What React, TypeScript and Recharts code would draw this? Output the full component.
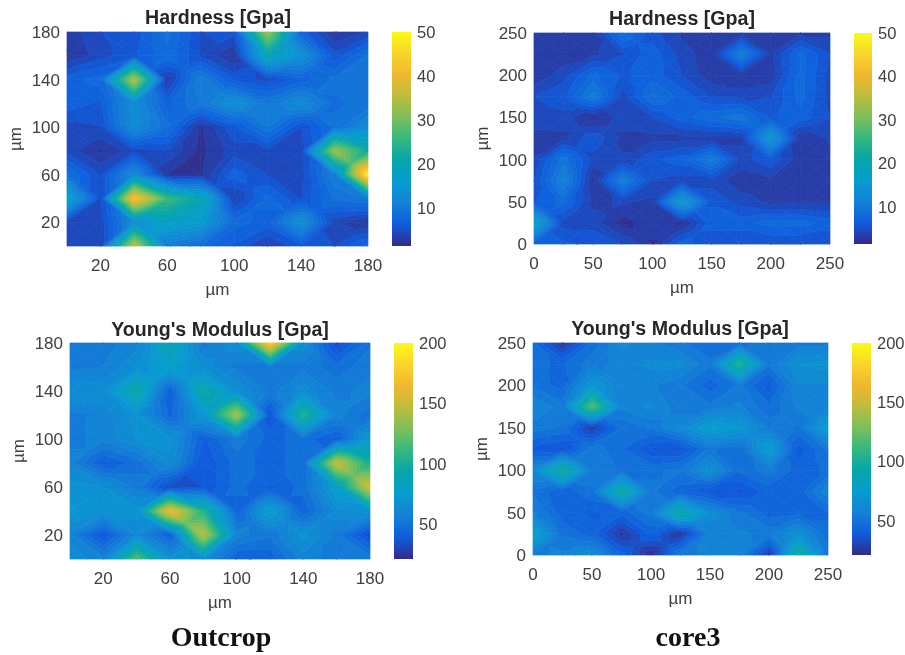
import React from 'react';
import { ScatterChart, Scatter, XAxis, YAxis, ComposedChart, Bar } from 'recharts';

const outcropAxis = [0, 20, 40, 60, 80, 100, 120, 140, 160, 180];
const outcropTicks = [20, 60, 100, 140, 180];
const core3Axis = [0, 25, 50, 75, 100, 125, 150, 175, 200, 225, 250];
const core3Ticks = [0, 50, 100, 150, 200, 250];
const hardnessBarTicks = [10, 20, 30, 40, 50];
const modulusBarTicks = [50, 100, 150, 200];
const hardnessRange: [number, number] = [1.4, 50];
const modulusRange: [number, number] = [21, 200];

// rows run from the top of each map (largest y) to the bottom (y = 0)
const outcropHardness = [
  [3, 5, 5.5, 9, 5, 5.5, 33, 7, 2.5, 4],
  [2.5, 4.5, 6, 8.5, 5, 2.5, 19, 14, 5.5, 9],
  [7, 8, 35, 3, 11, 6, 4.5, 7, 9, 9],
  [7, 6, 13, 7, 10, 14, 10, 13, 8.5, 9],
  [4.5, 5, 13, 9, 2.5, 6, 10, 5, 9, 13],
  [4.5, 2.5, 4.5, 5, 2.2, 4.5, 4.5, 4.5, 33, 22],
  [9, 5, 13, 2.5, 2.5, 7, 5, 4.5, 11, 49],
  [18, 5, 43, 26, 20, 3.5, 8, 5, 9, 10],
  [4, 4, 13, 18, 16, 8, 7, 14, 4, 2.5],
  [4, 4, 36, 10, 8, 6, 3.5, 6, 5, 8],
];
const core3Hardness = [
  [3.5, 3.5, 3, 9, 5.5, 3.5, 3, 3, 3, 3.5, 3.5],
  [3, 3, 3.5, 5, 7, 4.5, 3, 11, 3.5, 8, 5],
  [2.8, 4.5, 8, 6, 7, 5, 3, 3, 3, 8, 4.5],
  [5, 6, 10.5, 4.5, 9, 7, 5, 4.5, 5, 8, 4.5],
  [5, 4.5, 2.2, 4.5, 5, 7, 8.5, 9.5, 6, 7, 5],
  [3, 3.5, 6, 3.5, 3.5, 3.5, 3.5, 3.5, 15, 2.6, 4],
  [4, 9.5, 4.5, 4, 6, 7, 10.5, 4.5, 6, 3, 3.5],
  [5, 11.5, 2.5, 11, 5, 4.5, 4.5, 3, 3.5, 2.6, 3],
  [6, 8, 3.5, 4, 3.5, 16, 6, 4.5, 3.5, 3.5, 3.5],
  [18, 4.5, 4.5, 2, 3.5, 2.4, 7, 7, 8, 8, 7],
  [6.5, 6.5, 6, 5, 2.4, 7, 5, 5, 5, 5, 5],
];
const outcropModulus = [
  [52, 54, 58, 90, 54, 64, 180, 64, 32, 50],
  [54, 56, 66, 78, 64, 54, 54, 54, 48, 54],
  [66, 64, 95, 40, 95, 66, 54, 64, 54, 58],
  [54, 58, 68, 44, 72, 140, 36, 105, 58, 48],
  [54, 58, 66, 68, 40, 54, 44, 48, 40, 72],
  [58, 40, 48, 64, 36, 48, 44, 48, 150, 100],
  [68, 66, 54, 32, 36, 48, 40, 48, 78, 155],
  [72, 68, 68, 165, 105, 42, 78, 42, 64, 68],
  [58, 36, 62, 40, 145, 58, 52, 68, 54, 32],
  [64, 58, 118, 68, 64, 40, 42, 58, 54, 54],
];
const core3Modulus = [
  [47, 25, 47, 62, 57, 52, 47, 50, 52, 54, 54],
  [47, 45, 54, 57, 62, 62, 52, 105, 52, 66, 68],
  [50, 43, 72, 57, 57, 52, 43, 52, 38, 60, 60],
  [60, 54, 118, 57, 62, 52, 52, 57, 47, 57, 57],
  [54, 50, 27, 47, 52, 62, 78, 72, 54, 50, 76],
  [38, 35, 54, 47, 36, 35, 52, 47, 78, 38, 52],
  [62, 100, 54, 50, 50, 52, 66, 47, 54, 43, 47],
  [50, 42, 50, 96, 52, 43, 36, 35, 43, 43, 60],
  [57, 43, 40, 43, 54, 96, 64, 52, 43, 45, 45],
  [80, 50, 43, 25, 42, 25, 57, 57, 54, 66, 47],
  [54, 57, 66, 43, 22, 54, 57, 57, 25, 100, 54],
];

const parula: [number, number, number][] = [
  [53, 42, 135], [15, 92, 221], [20, 129, 214], [7, 156, 207], [6, 165, 170],
  [50, 184, 127], [124, 191, 92], [188, 189, 60], [240, 183, 47], [250, 212, 43], [249, 251, 21],
];
const FONT = '"Liberation Sans", Arial, sans-serif';
const TICK = { fontFamily: FONT, fontSize: 17, fill: '#404040' };
const BAR_TICK = { fontFamily: FONT, fontSize: 16.5, fill: '#404040' };

function colorAt(t: number) {
  const p = Math.max(0, Math.min(1, t)) * (parula.length - 1);
  const i = Math.min(parula.length - 2, Math.floor(p));
  const f = p - i;
  const c = parula[i].map((a, k) => Math.round(a + (parula[i + 1][k] - a) * f));
  return `rgb(${c[0]},${c[1]},${c[2]})`;
}

type V = [number, number, number];
function clip(poly: V[], level: number, keepAbove: boolean): V[] {
  const out: V[] = [];
  for (let i = 0; i < poly.length; i++) {
    const a = poly[i];
    const b = poly[(i + 1) % poly.length];
    const ain = keepAbove ? a[2] >= level : a[2] <= level;
    const bin = keepAbove ? b[2] >= level : b[2] <= level;
    if (ain) out.push(a);
    if (ain !== bin) {
      const t = (level - a[2]) / (b[2] - a[2]);
      out.push([a[0] + (b[0] - a[0]) * t, a[1] + (b[1] - a[1]) * t, level]);
    }
  }
  return out;
}

function HeatCell(props: any) {
  const { cx, cy, payload, cellW, cellH, range, bands } = props;
  if (cx == null || cy == null || !payload) return null;
  const { a, b, c, d } = payload;
  const sorted = [a, b, c, d].sort((p: number, q: number) => p - q);
  const mid = (sorted[1] + sorted[2]) / 2;
  const bl: V = [cx, cy, a];
  const br: V = [cx + cellW, cy, b];
  const tr: V = [cx + cellW, cy - cellH, c];
  const tl: V = [cx, cy - cellH, d];
  const ce: V = [cx + cellW / 2, cy - cellH / 2, mid];
  const tris: V[][] = [[bl, br, ce], [br, tr, ce], [tr, tl, ce], [tl, bl, ce]];
  const step = (range[1] - range[0]) / bands;
  const polys: React.ReactNode[] = [];
  tris.forEach((tri, ti) => {
    for (let k = 0; k < bands; k++) {
      const lo = range[0] + k * step;
      const hi = lo + step;
      const mx = Math.max(tri[0][2], tri[1][2], tri[2][2]);
      const mn = Math.min(tri[0][2], tri[1][2], tri[2][2]);
      if (mx < lo || mn > hi) continue;
      let p = clip(tri, lo, true);
      if (p.length) p = clip(p, hi, false);
      if (p.length < 3) continue;
      const col = colorAt((lo + step / 2 - range[0]) / (range[1] - range[0]));
      polys.push(
        <polygon key={`${ti}-${k}`} points={p.map((v) => `${v[0].toFixed(2)},${v[1].toFixed(2)}`).join(' ')} fill={col} stroke={col} strokeWidth={0.7} />
      );
    }
  });
  return <g>{polys}</g>;
}

function cellsFrom(axis: number[], rows: number[][]) {
  const out: any[] = [];
  const n = axis.length;
  for (let r = 0; r < n - 1; r++) {
    for (let i = 0; i < n - 1; i++) {
      const rowTop = rows[r];
      const rowBottom = rows[r + 1];
      out.push({
        x: axis[i],
        y: axis[n - 2 - r],
        a: rowBottom[i],
        b: rowBottom[i + 1],
        c: rowTop[i + 1],
        d: rowTop[i],
      });
    }
  }
  return out;
}

interface PanelProps {
  title: string; axis: number[]; ticks: number[]; rows: number[][];
  range: [number, number]; barTicks: number[]; bands: number; id: string;
  left: number; top: number; w: number; h: number; barLeft: number; barW: number; titleX: number; titleY: number;
}

function Panel(p: PanelProps) {
  const M = { l: 60, t: 10, r: 20, b: 60 };
  const span = p.axis[p.axis.length - 1] - p.axis[0];
  const stepSize = p.axis[1] - p.axis[0];
  const cellW = (p.w * stepSize) / span;
  const cellH = (p.h * stepSize) / span;
  const cells = cellsFrom(p.axis, p.rows);
  return (
    <>
      <div style={{ position: 'absolute', left: p.titleX - 150, top: p.titleY - 12, width: 300, height: 24, lineHeight: '24px', textAlign: 'center', fontFamily: FONT, fontWeight: 700, fontSize: 19.6, color: '#262626', zIndex: 2 }}>{p.title}</div>
      <div style={{ position: 'absolute', left: p.left - M.l, top: p.top - M.t }}>
        <ScatterChart width={p.w + M.l + M.r} height={p.h + M.t + M.b} margin={{ top: M.t, right: M.r, bottom: 0, left: 0 }}>
          <XAxis type="number" dataKey="x" domain={[p.axis[0], span]} ticks={p.ticks} interval={0} height={M.b}
            axisLine={false} tickLine={false} tickSize={0} tick={TICK} tickMargin={13}
            label={{ value: 'µm', position: 'insideBottom', offset: 11, style: TICK }} />
          <YAxis type="number" dataKey="y" domain={[p.axis[0], span]} ticks={p.ticks} interval={0} width={M.l}
            axisLine={false} tickLine={false} tickSize={0} tick={TICK} tickMargin={7}
            label={{ value: 'µm', angle: -90, position: 'insideLeft', offset: 8, style: { ...TICK, textAnchor: 'middle' } }} />
          <Scatter data={cells} isAnimationActive={false} style={{ filter: 'blur(1px)' }}
            shape={(s: any) => <HeatCell {...s} cellW={cellW} cellH={cellH} range={p.range} bands={p.bands} />} />
        </ScatterChart>
      </div>
      <div style={{ position: 'absolute', left: p.barLeft, top: p.top - M.t }}>
        <ComposedChart width={p.barW + 50} height={p.h + M.t + 10} data={[{ name: 'c', span: p.range }]}
          margin={{ top: M.t, right: 0, bottom: 10, left: 0 }} barCategoryGap={0}>
          <defs>
            <linearGradient id={p.id} x1="0" y1="1" x2="0" y2="0">
              {parula.map((c, i) => (
                <stop key={i} offset={i / (parula.length - 1)} stopColor={`rgb(${c[0]},${c[1]},${c[2]})`} />
              ))}
            </linearGradient>
          </defs>
          <XAxis dataKey="name" hide />
          <YAxis orientation="right" type="number" domain={p.range} ticks={p.barTicks} interval={0} width={50}
            axisLine={false} tickLine={false} tickSize={0} tick={BAR_TICK} tickMargin={6} />
          <Bar dataKey="span" fill={`url(#${p.id})`} isAnimationActive={false} />
        </ComposedChart>
      </div>
    </>
  );
}

export default function App() {
  const capt = { position: 'absolute', fontFamily: '"Liberation Serif", serif', fontWeight: 700, fontSize: 28, color: '#111', textAlign: 'center', width: 200, lineHeight: '32px' } as React.CSSProperties;
  return (
    <div style={{ position: 'absolute', left: 0, top: 0, width: 905, height: 655, background: '#fff', overflow: 'hidden', filter: 'blur(0.5px)' }}>
      <Panel title="Hardness [Gpa]" axis={outcropAxis} ticks={outcropTicks} rows={outcropHardness} range={hardnessRange} barTicks={hardnessBarTicks} bands={40} id="g1"
        left={67} top={32} w={301} h={214} barLeft={392} barW={19} titleX={218} titleY={17} />
      <Panel title="Hardness [Gpa]" axis={core3Axis} ticks={core3Ticks} rows={core3Hardness} range={hardnessRange} barTicks={hardnessBarTicks} bands={40} id="g2"
        left={534} top={33} w={296} h={211} barLeft={854} barW={18} titleX={682} titleY={18} />
      <Panel title="Young's Modulus [Gpa]" axis={outcropAxis} ticks={outcropTicks} rows={outcropModulus} range={modulusRange} barTicks={modulusBarTicks} bands={36} id="g3"
        left={70} top={343} w={300} h={216} barLeft={394} barW={19} titleX={220} titleY={329} />
      <Panel title="Young's Modulus [Gpa]" axis={core3Axis} ticks={core3Ticks} rows={core3Modulus} range={modulusRange} barTicks={modulusBarTicks} bands={36} id="g4"
        left={533} top={343} w={295} h={212} barLeft={852} barW={19} titleX={680} titleY={328} />
      <div style={{ ...capt, left: 121, top: 621 }}>Outcrop</div>
      <div style={{ ...capt, left: 588, top: 621 }}>core3</div>
    </div>
  );
}
